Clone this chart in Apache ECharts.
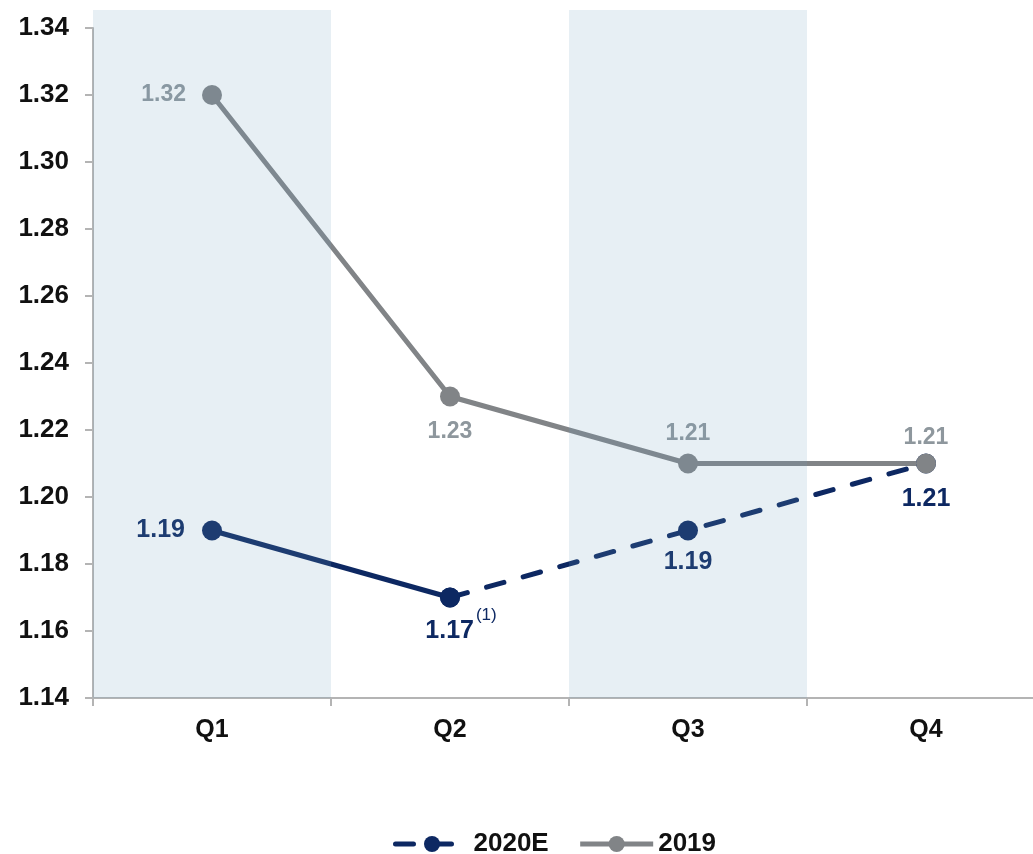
<!DOCTYPE html>
<html>
<head>
<meta charset="utf-8">
<script src="https://cdn.jsdelivr.net/npm/echarts@6/dist/echarts.min.js"></script>
<style>
  html, body { margin: 0; padding: 0; background: #fff; }
  #chart { width: 1033px; height: 854px; }
</style>
</head>
<body>
<div id="chart"></div>
<script>
const quarters = ['Q1', 'Q2', 'Q3', 'Q4']
const values2019 = [1.32, 1.23, 1.21, 1.21]
const values2020Actual = [1.19, 1.17, null, null]
const values2020Est = [null, 1.17, 1.19, 1.21]
const yMin = 1.14
const yMax = 1.34
const yStep = 0.02

const NAVY = '#0D2862'
const GREY = '#818487'
const GREY_LABEL = '#8E979D'
const FONT = '"Liberation Sans", Arial, sans-serif'

const chart = echarts.init(document.getElementById('chart'))

const fmt = v => v.toFixed(2)

// label helpers, position + distance per point
const greyLabel = (pos, dist) => ({
  show: true, position: pos, distance: dist,
  color: GREY_LABEL, fontSize: 23, fontWeight: 'bold', fontFamily: FONT,
  formatter: p => fmt(p.value)
})
const navyLabel = (pos, dist) => ({
  show: true, position: pos, distance: dist,
  color: NAVY, fontSize: 25, fontWeight: 'bold', fontFamily: FONT,
  formatter: p => fmt(p.value)
})

const greyLabelPos = [['left', 16], ['bottom', 14], ['top', 8], ['top', 4]]
const navyLabelPos = [['left', 17], null, ['bottom', 9], ['bottom', 13]]

chart.setOption({
  animation: false,
  textStyle: { fontFamily: FONT },
  grid: [
    { left: 93, width: 952, top: 28, bottom: 156, outerBoundsMode: 'none' },
    { left: 93, width: 952, top: 10, bottom: 156, outerBoundsMode: 'none' }
  ],
  legend: {
    data: ['2020E', '2019'],
    top: 826,
    left: 388,
    itemWidth: 73,
    itemHeight: 20,
    itemGap: 29,
    lineStyle: { width: 5 },
    textStyle: { color: '#111', fontSize: 26, fontWeight: 'bold', fontFamily: FONT }
  },
  xAxis: [
    {
      type: 'category',
      gridIndex: 0,
      data: quarters,
      axisLine: { lineStyle: { color: '#B4B4B4', width: 2 } },
      axisTick: { show: true, length: 8, lineStyle: { color: '#B4B4B4', width: 2 } },
      axisLabel: { color: '#111', fontSize: 25, fontWeight: 'bold', margin: 20, fontFamily: FONT }
    },
    {
      // shaded quarter bands, drawn over the lines like the original
      type: 'category',
      gridIndex: 1,
      data: quarters,
      z: 10,
      silent: true,
      axisLine: { show: false },
      axisTick: { show: false },
      axisLabel: { show: false },
      splitLine: { show: false },
      splitArea: {
        show: true,
        areaStyle: { color: ['rgba(115,160,190,0.17)', 'rgba(255,255,255,0)'] }
      }
    }
  ],
  yAxis: [
    {
      type: 'value',
      gridIndex: 0,
      min: yMin,
      max: yMax,
      interval: yStep,
      axisLine: { show: true, lineStyle: { color: '#B4B4B4', width: 2 } },
      axisTick: { show: true, length: 8, lineStyle: { color: '#B4B4B4', width: 2 } },
      splitLine: { show: false },
      axisLabel: {
        color: '#111', fontSize: 26, fontWeight: 'bold', margin: 24, fontFamily: FONT,
        formatter: v => v.toFixed(2)
      }
    },
    {
      type: 'value',
      gridIndex: 1,
      show: false,
      min: 0,
      max: 1
    }
  ],
  series: [
    {
      name: '2020E actual',
      type: 'line',
      xAxisIndex: 0,
      yAxisIndex: 0,
      data: values2020Actual.map((v, i) => v == null ? '-' : {
        value: v,
        label: i === 0 ? navyLabel(...navyLabelPos[0]) : { show: false }
      }),
      symbol: 'circle',
      symbolSize: 20,
      itemStyle: { color: NAVY },
      lineStyle: { color: NAVY, width: 5 }
    },
    {
      name: '2020E',
      type: 'line',
      xAxisIndex: 0,
      yAxisIndex: 0,
      data: values2020Est.map((v, i) => {
        if (v == null) return '-'
        if (i === 1) {
          // Q2 label carries the (1) footnote mark
          return {
            value: v,
            label: {
              show: true, position: 'bottom', distance: 0, offset: [11, -1],
              formatter: p => '{a|' + fmt(p.value) + '}{s|(1)}',
              rich: {
                a: { color: NAVY, fontSize: 25, fontWeight: 'bold', fontFamily: FONT, lineHeight: 50 },
                s: { color: NAVY, fontSize: 17, fontFamily: FONT, lineHeight: 17, verticalAlign: 'top', padding: [0, 0, 0, 2] }
              }
            }
          }
        }
        return { value: v, label: navyLabel(...navyLabelPos[i]) }
      }),
      symbol: 'circle',
      symbolSize: 20,
      itemStyle: { color: NAVY },
      lineStyle: { color: NAVY, width: 5, type: [18, 20], cap: 'round' }
    },
    {
      name: '2019',
      type: 'line',
      xAxisIndex: 0,
      yAxisIndex: 0,
      data: values2019.map((v, i) => ({ value: v, label: greyLabel(...greyLabelPos[i]) })),
      symbol: 'circle',
      symbolSize: 20,
      itemStyle: { color: GREY },
      lineStyle: { color: GREY, width: 5 }
    }
  ]
})
</script>
</body>
</html>
